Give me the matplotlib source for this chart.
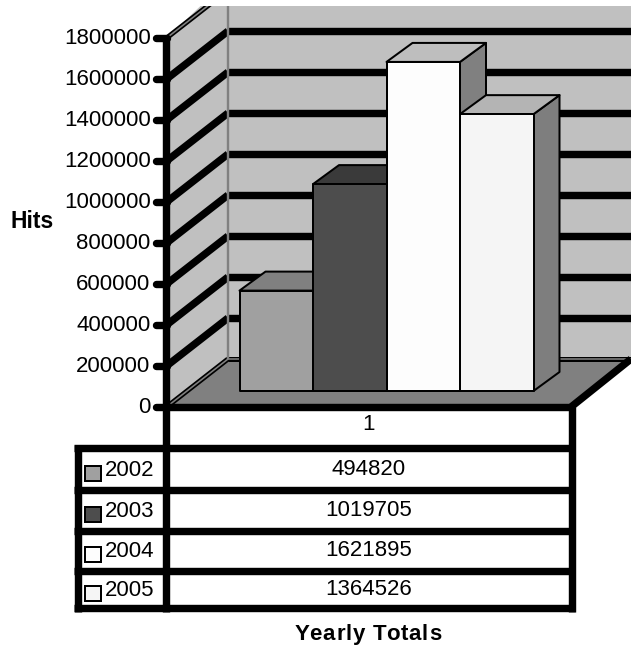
import matplotlib
matplotlib.use("Agg")
import matplotlib.pyplot as plt
from matplotlib.patches import Polygon, Rectangle

plt.rcParams['font.family'] = ['Liberation Sans', 'DejaVu Sans']

years = ['2002', '2003', '2004', '2005']
hits = [494820, 1019705, 1621895, 1364526]
ticks = [0, 200000, 400000, 600000, 800000, 1000000, 1200000, 1400000, 1600000, 1800000]
category = '1'
face = ['#A0A0A0', '#4D4D4D', '#FDFDFD', '#F5F5F5']
top_face = ['#808080', '#3A3A3A', '#BEBEBE', '#B4B4B4']
side_face = ['#808080', '#3A3A3A', '#808080', '#7E7E7E']

W, H = 631, 647
Y0, Y_MAX = 406.6, 37.7
k = ticks[-1] / (Y0 - Y_MAX)   # hits per pixel

fig = plt.figure(figsize=(W / 100, H / 100), dpi=100)
ax = fig.add_axes([0, 0, 1, 1])
ax.set_xlim(0, W)
ax.set_ylim(-(H - Y0) * k, Y0 * k)
ax.axis('off')

def px(n):
    return n * 0.72

def yp(p):
    # vertical pixel position to axis value
    return (Y0 - p) * k

def line(xs, ys, lw=7.4, color='black', cap='butt', z=2):
    ax.plot(xs, ys, color=color, lw=px(lw), solid_capstyle=cap, zorder=z)

# walls and floor
XF, XB, XE, XT = 167, 228, 631, 571.5
DY = 47.6 * k
ax.add_patch(Polygon([(XB, DY), (XE, DY), (XE, yp(-20)), (XB, yp(-20))], fc='#C0C0C0', ec='none', zorder=1))
ax.add_patch(Polygon([(XF, 0), (XB, DY), (XB, yp(-20)), (XF, yp(37.7))], fc='#C0C0C0', ec='none', zorder=1))
ax.add_patch(Polygon([(XF, 0), (XT, 0), (XE, DY), (XB, DY)], fc='#808080', ec='none', zorder=1))

# gridlines on the side and back walls
for t in ticks[1:-1]:
    line([XF, XB], [t, t + DY], z=2)
    line([XB, XE], [t + DY, t + DY], z=2)
for t in (0, ticks[-1]):
    line([XF, XB], [t, t + DY], lw=5, z=2)
    line([XF, XB], [t, t + DY], lw=1.6, color='#808080', z=2.1)
    line([XB, XE], [t + DY, t + DY], lw=5, z=2)
    line([XB, XE], [t + DY, t + DY], lw=1.6, color='#808080', z=2.1)
line([XB, XB], [DY, yp(-20)], lw=2.4, color='#808080', z=2.2)

# bars
BAR_LEFT, BAR_W = 239.5, 73.5
BAR_BASE = yp(391)
BDX, BDY = 26, 19 * k
SCALE = 0.99
for i, v in enumerate(hits):
    x0, x1 = BAR_LEFT + i * BAR_W, BAR_LEFT + (i + 1) * BAR_W
    b, t = BAR_BASE, BAR_BASE + v * SCALE
    ec = dict(ec='black', lw=px(2), joinstyle='round')
    ax.add_patch(Polygon([(x1, b), (x1 + BDX, b + BDY), (x1 + BDX, t + BDY), (x1, t)], fc=side_face[i], zorder=3 + i, **ec))
    ax.add_patch(Polygon([(x0, t), (x1, t), (x1 + BDX, t + BDY), (x0 + BDX, t + BDY)], fc=top_face[i], zorder=3 + i, **ec))
    ax.add_patch(Rectangle((x0, b), x1 - x0, t - b, fc=face[i], zorder=3.5 + i, **ec))

# area above the plot stays blank
ax.add_patch(Rectangle((0, yp(6)), W, yp(-20) - yp(6), fc='white', ec='none', zorder=8))

# axis with its ticks
for t in ticks:
    line([156, XF], [t, t], cap='round', z=9)
    ax.text(150.5, t - 0.5 * k, f'{t}', ha='right', va='center', fontsize=16, zorder=10)
rows = [448.5, 490.5, 530.5, 570.5, 608.0]
COL_L, COL_M = 77.5, 166
line([COL_M, COL_M], [yp(37.7), yp(rows[-1] + 3.7)], z=9)
line([XT, XT], [0, yp(rows[-1] + 3.7)], z=9)
line([XF, XT + 3], [0, 0], z=9)
line([XT, XE], [0, DY], z=9)

# data table
for r in rows:
    line([COL_L - 3.7, XT + 3.7], [yp(r), yp(r)], z=9)
line([COL_L, COL_L], [yp(rows[0] - 3.7), yp(rows[-1] + 3.7)], z=9)

XC = 369
ax.text(XC, yp(425), category, ha='center', va='center', fontsize=16, zorder=10)
for i, y in enumerate(years):
    mid = (rows[i] + rows[i + 1]) / 2
    ax.text(XC, yp(mid), str(hits[i]), ha='center', va='center', fontsize=16, zorder=10)
    ax.text(105, yp(mid + 1), y, ha='left', va='center', fontsize=16, zorder=10)
    ax.add_patch(Rectangle((85, yp(mid + 11.5)), 15.5, 15 * k, fc=face[i], ec='black', lw=px(2), zorder=10))

ax.text(10, yp(222), 'Hits', ha='left', va='center', fontsize=16.5, fontweight='bold', zorder=10)

# axis title with widened letter spacing
title = 'Yearly Totals'
SIZE = 16
fig.canvas.draw()
renderer = fig.canvas.get_renderer()
for n, ch in enumerate(title):
    t = ax.text(295, yp(632), ch, ha='left', va='center_baseline', fontsize=SIZE, fontweight='bold', zorder=10)
    prefix = ax.text(0, 0, title[:n + 1], fontsize=SIZE, fontweight='bold')
    w1 = prefix.get_window_extent(renderer).width
    prefix.remove()
    t.set_x(295 + (w1 - t.get_window_extent(renderer).width) + n * 0.9)

fig.savefig('out.png', dpi=100, facecolor='white')
